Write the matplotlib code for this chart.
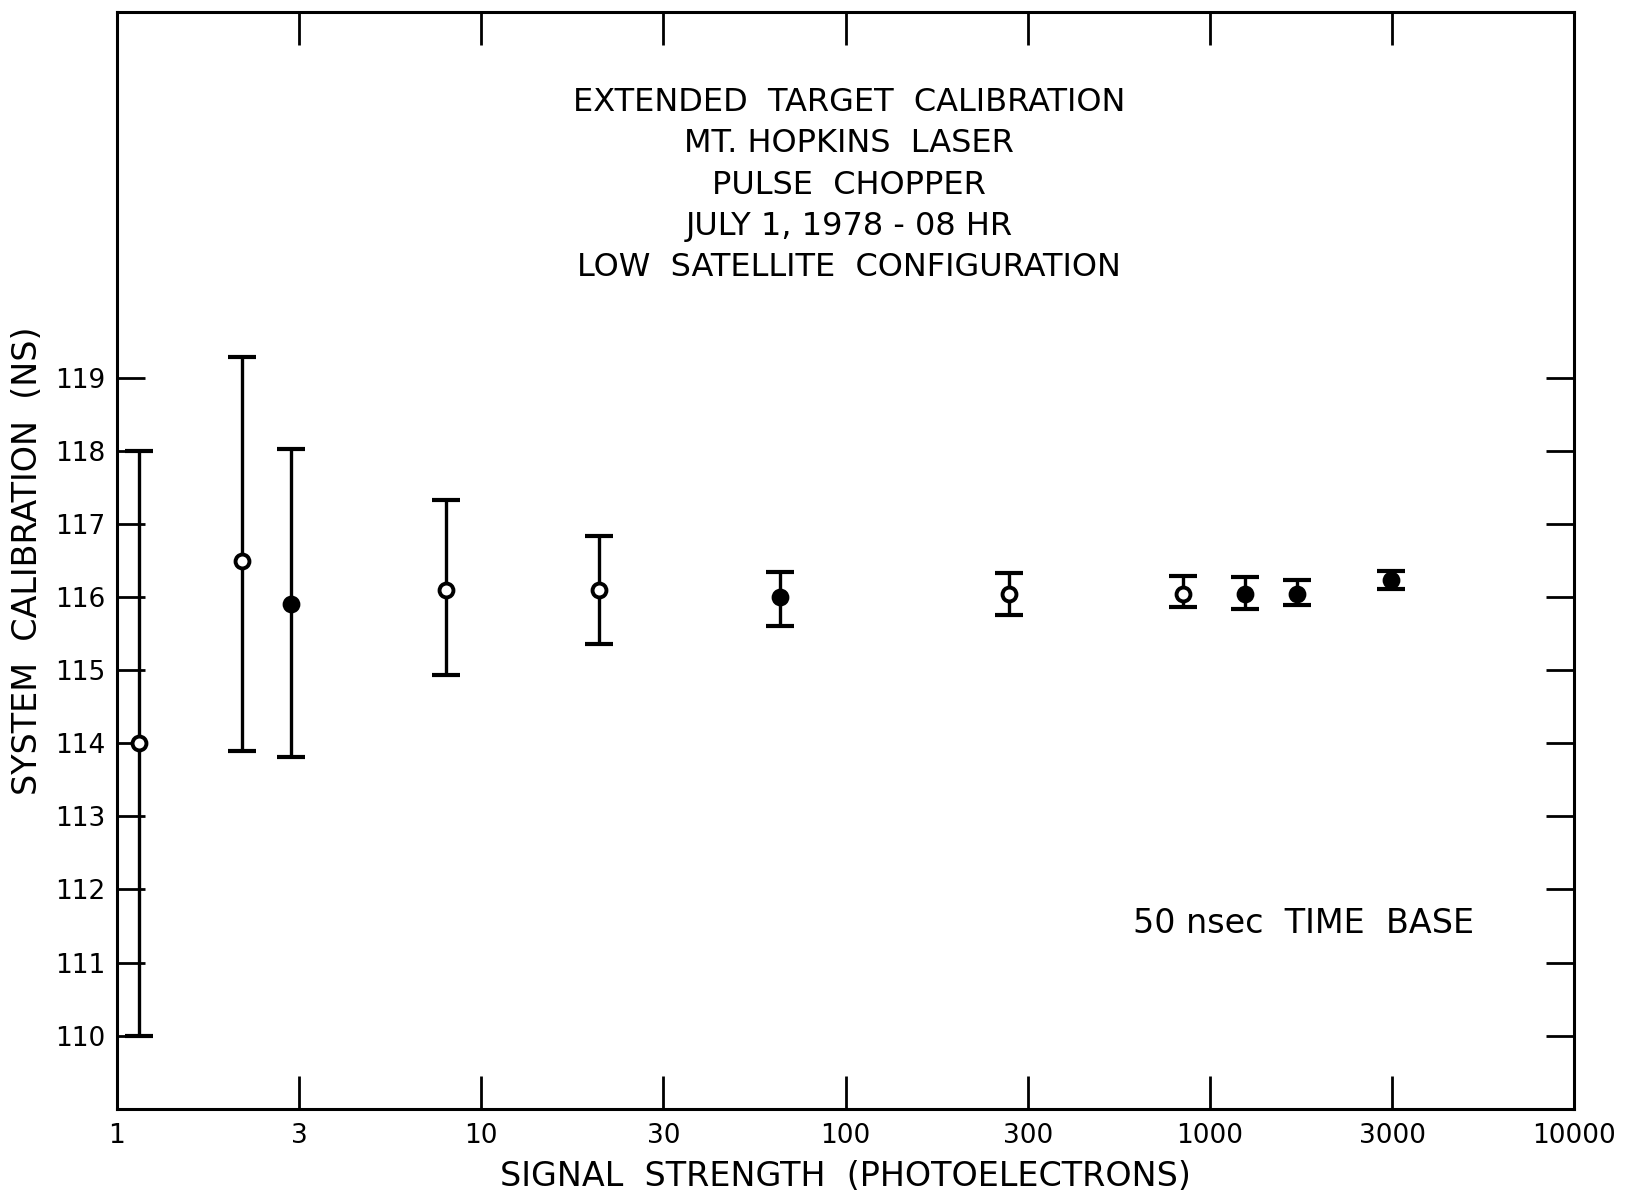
import matplotlib.pyplot as plt
import numpy as np

# signal strength (photoelectrons) and system calibration (ns)
signal = [1.15, 2.2, 3.0, 8.0, 21.0, 66.0, 281.0, 842.0, 1244.0, 1733.0, 3142.0]
calib = [114.0, 116.5, 115.9, 116.1, 116.1, 116.0, 116.04, 116.04, 116.04, 116.04, 116.24]
err_hi = [118.0, 119.29, 118.03, 117.33, 116.84, 116.34, 116.33, 116.29, 116.27, 116.23, 116.36]
err_lo = [110.0, 113.89, 113.81, 114.93, 115.36, 115.61, 115.76, 115.86, 115.84, 115.89, 116.11]
filled = [False, False, True, False, False, True, False, False, True, True, True]

x_tick_labels = ['1', '3', '10', '30', '100', '300', '1000', '3000', '10000']
y_ticks = [110, 111, 112, 113, 114, 115, 116, 117, 118, 119]

title_lines = ['EXTENDED  TARGET  CALIBRATION',
               'MT. HOPKINS  LASER',
               'PULSE  CHOPPER',
               'JULY 1, 1978 - 08 HR',
               'LOW  SATELLITE  CONFIGURATION']

plt.rcParams['font.family'] = ['DejaVu Sans']

fig = plt.figure(figsize=(16.4, 11.99), dpi=100)
ax = fig.add_axes([0.0713, 0.0753, 0.8887, 0.9143])

calib = np.array(calib)
yerr = [calib - np.array(err_lo), np.array(err_hi) - calib]
ax.errorbar(signal, calib, yerr=yerr, fmt='none', ecolor='black',
            elinewidth=2.4, capsize=10, capthick=3)
for x, y, f in zip(signal, calib, filled):
    ax.plot(x, y, 'o', ms=10, mec='black', mew=2.8,
            mfc='black' if f else 'white', zorder=3)

ax.set_xscale('log')
ax.set_xlim(1, 10000)
ax.set_ylim(109, 124)

# the original paper spaces its "3" ticks at half decades
x_ticks = [10 ** (k / 2) for k in range(len(x_tick_labels))]
ax.set_xticks(x_ticks)
ax.set_xticklabels(x_tick_labels)
ax.xaxis.set_minor_locator(plt.NullLocator())
ax.set_yticks(y_ticks)
ax.set_yticklabels([str(v) for v in y_ticks])

ax.tick_params(axis='x', which='major', direction='in', length=24, width=2,
               top=True, labelsize=19, pad=10)
ax.tick_params(axis='y', which='major', direction='in', length=20, width=2,
               right=True, labelsize=19, pad=8)
for s in ax.spines.values():
    s.set_linewidth(2.2)

ax.set_xlabel('SIGNAL  STRENGTH  (PHOTOELECTRONS)', fontsize=24, labelpad=8)
ax.set_ylabel('SYSTEM  CALIBRATION  (NS)', fontsize=24, labelpad=8)

y0 = 0.918
for i, line in enumerate(title_lines):
    ax.text(0.5025, y0 - i * 0.0377, line, transform=ax.transAxes,
            ha='center', va='center', fontsize=23)

ax.text(0.697, 0.169, '50 nsec  TIME  BASE', transform=ax.transAxes,
        ha='left', va='center', fontsize=24)

fig.savefig('out.png', dpi=100)
